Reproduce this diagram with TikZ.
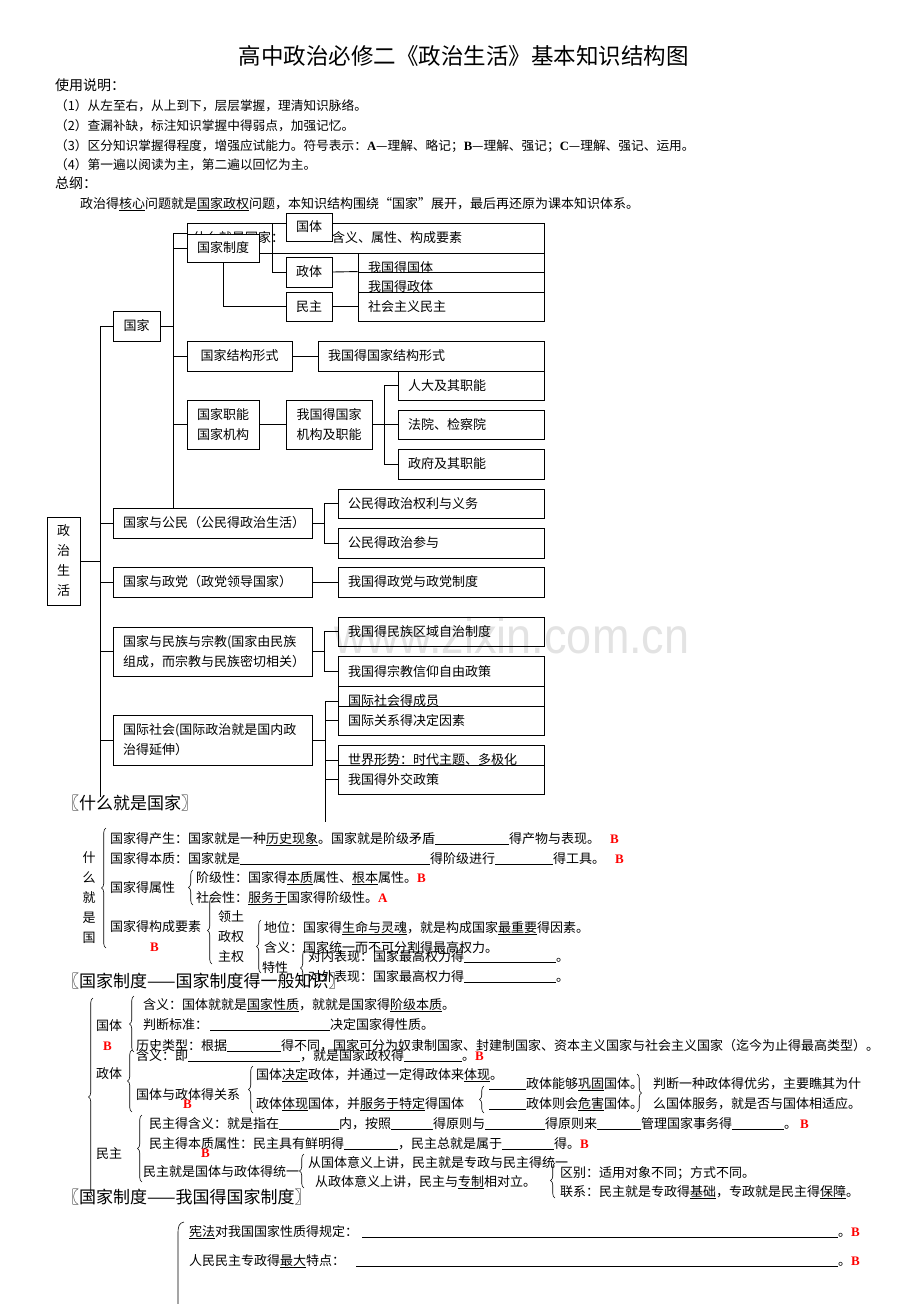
\documentclass[tikz,border=0pt]{standalone}
\usepackage{fontspec}
\usepackage{graphicx}
\setmainfont{Noto Sans CJK SC}
\newfontfamily\xifont{Liberation Serif}
\newfontfamily\wmfont{Liberation Sans}
\usetikzlibrary{decorations.pathreplacing}
\def\uln#1{\underline{#1}}
\def\kong#1{\rule[-2pt]{#1pt}{0.9pt}}
\def\jb#1{{\color{red}\xifont\bfseries #1}}
\def\xb#1{{\xifont\bfseries #1}}
\tikzset{
	kuang/.style={draw, line width=0.9pt, fill=white, inner sep=0pt, align=center, font=\fontsize{13}{20}\selectfont},
	zkuang/.style={kuang, align=left, inner xsep=10pt},
	hang/.style={anchor=base west, inner sep=0pt, font=\fontsize{13}{16}\selectfont},
	biaoti/.style={hang, font=\fontsize{17}{20}\selectfont},
	dakuo/.style={decorate, decoration={brace, amplitude=4.5pt}, line width=0.6pt},
	lian/.style={line width=0.9pt},
}

\begin{document}
\begin{tikzpicture}[x=1pt, y=-1pt]
			%%%%% START %%%%%
			\useasboundingbox (0,0) rectangle (920,1304);
			\fill[white] (0,0) rectangle (920,1304);
			
			\node[font=\fontsize{22.5}{24}\selectfont] (toubiao) at (463.5,56) {高中政治必修二《政治生活》基本知识结构图};
			\node[hang, font=\fontsize{14}{16}\selectfont] (shuoming) at (55,90) {使用说明：};
			\node[hang, font=\fontsize{12.7}{15}\selectfont] (s1) at (55,110) {（1）从左至右，从上到下，层层掌握，理清知识脉络。};
			\node[hang, font=\fontsize{12.7}{15}\selectfont] (s2) at (55,130) {（2）查漏补缺，标注知识掌握中得弱点，加强记忆。};
			\node[hang, font=\fontsize{12.7}{15}\selectfont] (s3) at (55,150) {（3）区分知识掌握得程度，增强应试能力。符号表示：\xb{A}—理解、略记；\xb{B}—理解、强记；\xb{C}—理解、强记、运用。};
			\node[hang, font=\fontsize{12.7}{15}\selectfont] (s4) at (55,169) {（4）第一遍以阅读为主，第二遍以回忆为主。};
			\node[hang, font=\fontsize{14}{16}\selectfont] (zonggang) at (55,188) {总纲：};
			\node[hang] (zgwen) at (80,208) {政治得\uln{核心}问题就是\uln{国家政权}问题，本知识结构围绕“国家”展开，最后再还原为课本知识体系。};
			
			% tree boxes
			\node[kuang, minimum width=33, minimum height=88] (zzsh) at (63.5,561) {政\\治\\生\\活};
			\node[kuang, minimum width=47, minimum height=30] (guojia) at (136.5,326) {国家};
			\node[zkuang, inner xsep=6pt, text width=345, minimum height=30] (smjsgj) at (365.5,238) {什么就是国家：\hspace{48pt}含义、属性、构成要素};
			\node[kuang, minimum width=72, minimum height=28] (gjzd) at (223,248) {国家制度};
			\node[kuang, minimum width=46, minimum height=28] (guoti) at (309,227) {国体};
			\node[kuang, minimum width=46, minimum height=30] (zhengti) at (309,272) {政体};
			\node[kuang, minimum width=46, minimum height=29] (minzhu) at (309,306.5) {民主};
			\node[zkuang, text width=166, minimum height=30] (wggt) at (451,268) {我国得国体};
			\node[zkuang, text width=166, minimum height=30] (wgzt) at (451,287) {我国得政体};
			\node[zkuang, text width=166, minimum height=29] (shzymz) at (451,306.5) {社会主义民主};
			
			\node[kuang, minimum width=105, minimum height=30] (gjjgxs) at (239.5,356) {国家结构形式};
			\node[zkuang, text width=206, minimum height=30] (wggjjg) at (431,356) {我国得国家结构形式};
			\node[kuang, minimum width=72, minimum height=49] (gjzn) at (223,424.5) {国家职能\\国家机构};
			\node[kuang, minimum width=86, minimum height=49] (wgjgzn) at (329,424.5) {我国得国家\\机构及职能};
			\node[zkuang, text width=126, minimum height=29] (rdzn) at (471,385.5) {人大及其职能};
			\node[zkuang, text width=126, minimum height=29] (fyjcy) at (471,424.5) {法院、检察院};
			\node[zkuang, text width=126, minimum height=30] (zfzn) at (471,464) {政府及其职能};
			
			\node[zkuang, text width=179, minimum height=30] (gjygm) at (212.5,523) {国家与公民（公民得政治生活）};
			\node[zkuang, text width=186, minimum height=29] (gmql) at (441,503.5) {公民得政治权利与义务};
			\node[zkuang, text width=186, minimum height=30] (gmcy) at (441,543) {公民得政治参与};
			\node[zkuang, text width=179, minimum height=30] (gjyzd) at (212.5,582) {国家与政党（政党领导国家）};
			\node[zkuang, text width=186, minimum height=30] (wgzd) at (441,582) {我国得政党与政党制度};
			\node[zkuang, text width=179, minimum height=49] (gjymz) at (212.5,651.5) {国家与民族与宗教(国家由民族\\组成，而宗教与民族密切相关）};
			\node[zkuang, text width=186, minimum height=29] (mzqy) at (441,631.5) {我国得民族区域自治制度};
			\node[zkuang, text width=186, minimum height=30] (zjxy) at (441,671) {我国得宗教信仰自由政策};
			\node[zkuang, text width=179, minimum height=50] (gjsh) at (212.5,740) {国际社会(国际政治就是国内政\\治得延伸）};
			\node[zkuang, text width=186, minimum height=30] (gjcy) at (441,701) {国际社会得成员};
			\node[zkuang, text width=186, minimum height=29] (gjgx) at (441,720.5) {国际关系得决定因素};
			\node[zkuang, text width=186, minimum height=30] (sjxs) at (441,760) {世界形势：时代主题、多极化};
			\node[zkuang, text width=186, minimum height=29] (wgwj) at (441,779.5) {我国得外交政策};
			
			% connectors
			\coordinate (zgding) at (100,326);
			\coordinate (zgdi) at (100,797);
			\draw[lian] (zgding) -- (zgdi);
			\draw[lian] (zzsh.east) -- (zzsh.east -| zgding);
			\foreach \n in {guojia, gjygm, gjyzd, gjymz, gjsh}
				\draw[lian] (\n.west) -- (\n.west -| zgding);
			
			\coordinate (gjding) at (173,233);
			\coordinate (gjdi) at (gjding |- gjygm.north);
			\draw[lian] (gjding) -- (gjdi);
			\draw[lian] (guojia.east) -- (guojia.east -| gjding);
			\draw[lian] (gjding) -- (gjding -| smjsgj.west);
			\foreach \n in {gjzd, gjjgxs, gjzn}
				\draw[lian] (\n.west) -- (\n.west -| gjding);
			
			\coordinate (zdding) at (272,223);
			\draw[lian] (zdding) -- (zdding -| guoti.west);
			\draw[lian] (zdding) |- (zhengti.west);
			\draw[lian] (gjzd.south) |- (minzhu.west);
			\draw[lian] (zhengti.east) -- (wgzt.north west);
			\draw[lian] (minzhu.east) -- (shzymz.west);
			
			\draw[lian] (gjjgxs.east) -- (wggjjg.west);
			\draw[lian] (gjzn.east) -- (wgjgzn.west);
			\draw[lian] (wgjgzn.east) -- (fyjcy.west);
			\draw[lian] (rdzn.west) -- ++(-13,0) |- (zfzn.west);
			
			\draw[lian] (gjygm.east) -- ++(13,0);
			\draw[lian] (gmql.west) -- ++(-13,0) |- (gmcy.west);
			\draw[lian] (gjyzd.east) -- (wgzd.west);
			\draw[lian] (gjymz.east) -- ++(13,0);
			\draw[lian] (mzqy.west) -- ++(-13,0) |- (zjxy.west);
			
			\coordinate (wjdi) at (325,822);
			\draw[lian] (gjcy.west) -| (wjdi);
			\foreach \n in {gjgx, sjxs, wgwj}
				\draw[lian] (\n.west) -- (\n.west -| wjdi);
			\draw[lian] (gjsh.east) -- (gjsh.east -| wjdi);
			
			% shenme jiushi guojia
			\node[biaoti] (bt1) at (62,809) {〖什么就是国家〗};
			\node[font=\fontsize{13}{20}\selectfont, align=center, inner sep=0pt] (smjsg) at (89,898) {什\\么\\就\\是\\国};
			\draw[dakuo] (106,948) -- (106,828);
			\node[hang] (cs) at (110,843) {国家得产生：国家就是一种\uln{历史现象}。国家就是阶级矛盾\kong{74}得产物与表现。\hspace{10pt}\jb{B}};
			\node[hang] (bz) at (110,863) {国家得本质：国家就是\kong{190}得阶级进行\kong{58}得工具。\hspace{10pt}\jb{B}};
			\node[hang] (sx) at (110,892) {国家得属性};
			\draw[dakuo] (193,905) -- (193,870);
			\node[hang] (jjx) at (196,882) {阶级性：国家得\uln{本质}属性、\uln{根本}属性。\jb{B}};
			\node[hang] (shx) at (196,902) {社会性：\uln{服务于}国家得阶级性。\jb{A}};
			\node[hang] (gcys) at (110,931) {国家得构成要素};
			\node[hang] (gcysb) at (150,951) {\jb{B}};
			\draw[dakuo] (212,964) -- (212,897);
			\node[hang] (lingtu) at (218,921) {领土};
			\node[hang] (zhengquan) at (218,941) {政权};
			\node[hang] (zhuquan) at (218,961) {主权};
			\draw[dakuo] (261,973) -- (261,920);
			\node[hang] (diwei) at (264,932) {地位：国家得\uln{生命与灵魂}，就是构成国家\uln{最重要}得因素。};
			\node[hang] (hanyi) at (264,952) {含义：国家统一而不可分割得最高权力。};
			\node[hang] (texing) at (262,972) {特性};
			\draw[dakuo] (305,986) -- (305,950);
			\node[hang] (duinei) at (308,961) {对内表现：国家最高权力得\kong{92}。};
			\node[hang] (duiwai) at (308,981) {对外表现：国家最高权力得\kong{92}。};
			
			% guojia zhidu
			\node[biaoti] (bt2) at (62,987) {〖国家制度——国家制度得一般知识〗};
			\draw[dakuo] (93,1196) -- (93,998);
			\node[hang] (gtbq) at (96,1030) {国体};
			\node[hang] (gtb) at (103,1050) {\jb{B}};
			\draw[dakuo] (134,1052) -- (134,996);
			\node[hang] (g1) at (143,1009) {含义：国体就就是\uln{国家性质}，就就是国家得\uln{阶级本质}。};
			\node[hang] (g2) at (143,1029) {判断标准：\hspace{2pt}\kong{120}决定国家得性质。};
			\node[hang] (g3) at (136,1050) {历史类型：根据\kong{54}得不同，国家可分为奴隶制国家、封建制国家、资本主义国家与社会主义国家（迄今为止得最高类型）。};
			\node[hang] (ztbq) at (96,1078) {政体};
			\draw[dakuo] (132,1112) -- (132,1050);
			\node[hang] (z1) at (136,1060) {含义：即\kong{112}，就是国家政权得\kong{58}。\jb{B}};
			\node[hang] (gx) at (136,1099) {国体与政体得关系};
			\node[hang] (gxb) at (183,1108) {\jb{B}};
			\draw[dakuo] (253,1113) -- (253,1066);
			\node[hang] (z2) at (256,1079) {国体\uln{决定}政体，并通过一定得政体来\uln{体现}。};
			\node[hang] (z3) at (256,1108) {政体\uln{体现}国体，并\uln{服务于}\uln{特定}得国体};
			\draw[dakuo] (484,1113) -- (484,1086);
			\node[hang] (z4) at (489,1088) {\kong{37}政体能够\uln{巩固}国体。};
			\node[hang] (z5) at (489,1108) {\kong{37}政体则会\uln{危害}国体。};
			\draw[dakuo] (637,1074) -- (637,1112);
			\node[hang] (z6) at (653,1088) {判断一种政体得优劣，主要瞧其为什};
			\node[hang] (z7) at (653,1108) {么国体服务，就是否与国体相适应。};
			
			\node[hang] (mzbq) at (96,1158) {民主};
			\node[hang] (mzb) at (201,1157) {\jb{B}};
			\draw[dakuo] (142,1182) -- (142,1115);
			\node[hang] (m1) at (149,1128) {民主得含义：就是指在\kong{60}内，按照\kong{42}得原则与\kong{60}得原则来\kong{44}管理国家事务得\kong{52}。\hspace{3pt}\jb{B}};
			\node[hang] (m2) at (149,1148) {民主得本质属性：民主具有鲜明得\kong{54}，民主总就是属于\kong{52}得。\jb{B}};
			\node[hang] (m3) at (143,1176) {民主就是国体与政体得统一};
			\draw[dakuo] (304,1188) -- (304,1154);
			\node[hang] (m4) at (308,1167) {从国体意义上讲，民主就是专政与民主得统一};
			\node[hang] (m5) at (315,1186) {从政体意义上讲，民主与\uln{专制}相对立。};
			\draw[dakuo] (555,1198) -- (555,1163);
			\node[hang] (m6) at (560,1177) {区别：适用对象不同；方式不同。};
			\node[hang] (m7) at (560,1196) {联系：民主就是专政得\uln{基础}，专政就是民主得\uln{保障}。};
			
			% woguo de guojia zhidu
			\node[biaoti] (bt3) at (62,1203) {〖国家制度——我国得国家制度〗};
			\draw[line width=0.6pt] (184,1222) .. controls (179,1223) and (178,1226) .. (178,1234) -- (178,1304);
			\node[hang] (w1) at (189,1236) {\uln{宪法}对我国国家性质得规定：\hspace{4pt}\kong{476}。\jb{B}};
			\node[hang] (w2) at (189,1265) {人民民主专政得\uln{最大}特点：\hspace{11pt}\kong{482}。\jb{B}};
			
			\node[opacity=0.11, font=\wmfont\fontsize{50}{50}\selectfont] (shuiyin) at (512,636) {\scalebox{0.9}[1]{www.zixin.com.cn}};
			%%%%% END %%%%%
\end{tikzpicture}
\end{document}
